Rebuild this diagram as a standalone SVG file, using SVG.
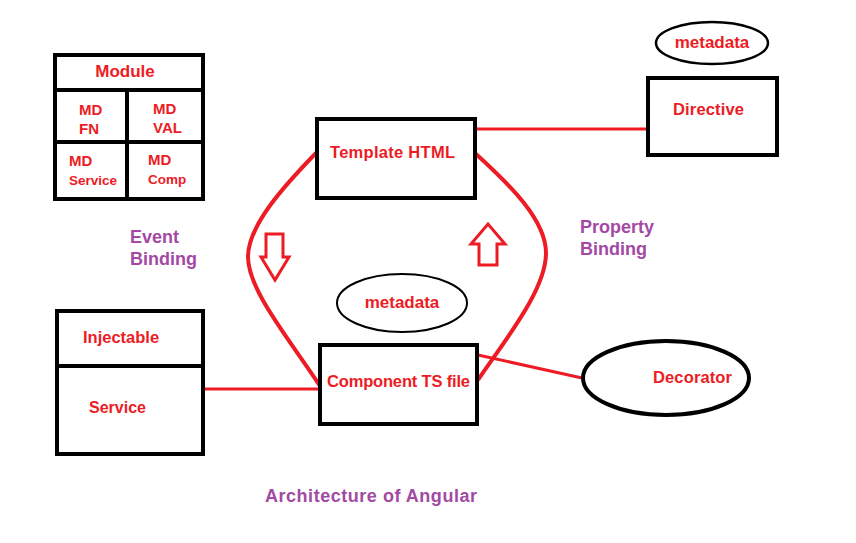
<svg xmlns="http://www.w3.org/2000/svg" width="856" height="543" viewBox="0 0 856 543">
<style>
.box{fill:none;stroke:#000;stroke-width:4}
.ell{fill:#fff;stroke:#000}
.lbl{font-family:"Liberation Sans",Arial,sans-serif;font-weight:bold;fill:#ed1c24}
.note{font-family:"Liberation Sans",Arial,sans-serif;font-weight:bold;fill:#a349a4;font-size:18px}
.conn{fill:none;stroke:#ed1c24;stroke-width:3}
.curve{fill:none;stroke:#ed1c24;stroke-width:4}
.harrow{fill:none;stroke:#ed1c24;stroke-width:3;stroke-linejoin:miter}
</style>
<rect width="856" height="543" fill="#fff"/>
<g id="connectors">
<line class="conn" x1="476" y1="129" x2="647" y2="129"/>
<line class="conn" x1="203" y1="389" x2="321" y2="389"/>
<line class="conn" x1="478" y1="355" x2="582" y2="378"/>
<path class="curve" d="M316,153 C285,185 248,225 248,257 C248,290 290,340 320,386"/>
<path class="curve" d="M476,154 C510,185 546,220 546,253 C546,290 505,340 478,380"/>
<path class="harrow" d="M266,234 L283,234 L283,257 L289,257 L275,280 L261,257 L266,257 Z"/>
<path class="harrow" d="M479,265 L497,265 L497,244 L505,244 L488,224 L471,244 L479,244 Z"/>
</g>
<g id="module">
<rect class="box" x="55" y="55" width="148" height="144"/>
<line class="box" x1="55" y1="90" x2="203" y2="90"/>
<line class="box" x1="53" y1="142" x2="205" y2="142"/>
<line class="box" x1="127" y1="90" x2="127" y2="201"/>
<text class="lbl" x="125" y="77" font-size="17" text-anchor="middle">Module</text>
<text class="lbl" x="79" y="115" font-size="15">MD</text>
<text class="lbl" x="79" y="134" font-size="15">FN</text>
<text class="lbl" x="153" y="114" font-size="15">MD</text>
<text class="lbl" x="153" y="133" font-size="15">VAL</text>
<text class="lbl" x="69" y="166" font-size="15">MD</text>
<text class="lbl" x="69" y="185" font-size="13.5">Service</text>
<text class="lbl" x="148" y="165" font-size="15">MD</text>
<text class="lbl" x="148" y="184" font-size="13.5">Comp</text>
</g>
<g id="template-html">
<rect class="box" x="317" y="119" width="158" height="79"/>
<text class="lbl" x="330" y="158" font-size="16.5" textLength="125">Template HTML</text>
</g>
<g id="component-ts">
<rect class="box" x="320" y="345" width="157" height="79"/>
<text class="lbl" x="327" y="387" font-size="16.5" textLength="143">Component TS file</text>
</g>
<g id="metadata-center">
<ellipse class="ell" cx="402" cy="303" rx="65" ry="29" stroke-width="2"/>
<text class="lbl" x="402" y="308" font-size="17" text-anchor="middle">metadata</text>
</g>
<g id="directive">
<rect class="box" x="648" y="78" width="129" height="77"/>
<text class="lbl" x="673" y="115" font-size="16.5" textLength="71">Directive</text>
</g>
<g id="metadata-top">
<ellipse class="ell" cx="712" cy="43" rx="56" ry="21" stroke-width="2.5"/>
<text class="lbl" x="712" y="48" font-size="17" text-anchor="middle">metadata</text>
</g>
<g id="service">
<rect class="box" x="57" y="311" width="146" height="143"/>
<line class="box" x1="57" y1="366" x2="205" y2="366"/>
<text class="lbl" x="83" y="343" font-size="16.5">Injectable</text>
<text class="lbl" x="89" y="413" font-size="16">Service</text>
</g>
<g id="decorator">
<ellipse class="ell" cx="666" cy="378" rx="83" ry="37" stroke-width="4"/>
<text class="lbl" x="653" y="383" font-size="16.5" textLength="79">Decorator</text>
</g>
<g id="labels">
<text class="note" x="130" y="243">Event</text>
<text class="note" x="130" y="265">Binding</text>
<text class="note" x="580" y="233">Property</text>
<text class="note" x="580" y="255">Binding</text>
<text class="note" x="265" y="502" textLength="212">Architecture of Angular</text>
</g>
</svg>
